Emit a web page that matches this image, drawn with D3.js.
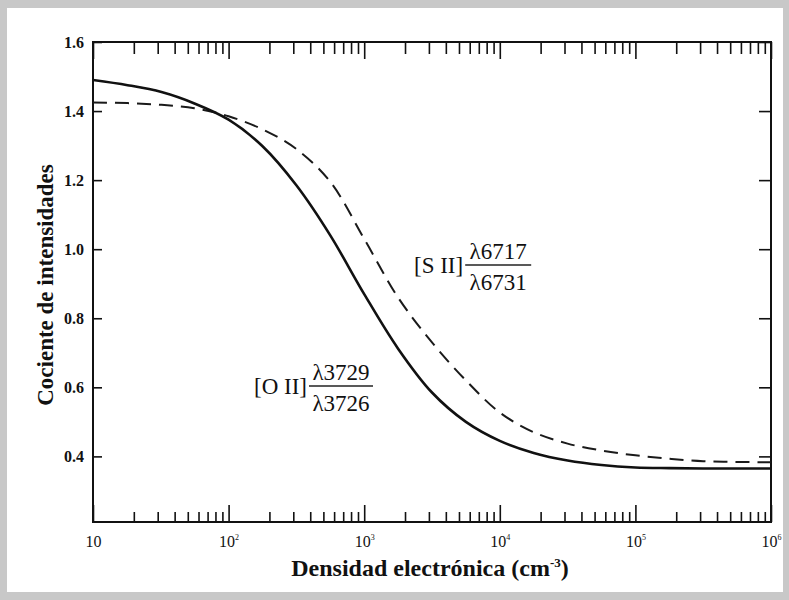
<!DOCTYPE html>
<html>
<head>
<meta charset="utf-8">
<script src="https://cdn.jsdelivr.net/npm/d3@7"></script>
<style>
  html, body { margin: 0; padding: 0; background: #c8c8c8; }
  svg { display: block; }
  text { font-family: "Liberation Serif", "DejaVu Serif", serif; fill: #111; }
</style>
</head>
<body>
<svg id="chart" width="789" height="600"></svg>
<script>
// ---- data ----
const densities = [10, 18, 32, 56, 100, 178, 316, 562, 1000, 1778, 3162, 5623,
                   10000, 17783, 31623, 56234, 100000, 177828, 316228, 562341, 1000000];
const oiiRatio  = [1.490, 1.475, 1.455, 1.422, 1.375, 1.298, 1.185, 1.040, 0.870, 0.712, 0.585, 0.500,
                   0.445, 0.410, 0.388, 0.375, 0.368, 0.366, 0.365, 0.365, 0.365];
const siiRatio  = [1.425, 1.423, 1.418, 1.408, 1.385, 1.347, 1.290, 1.195, 1.030, 0.860, 0.730, 0.620,
                   0.527, 0.470, 0.437, 0.417, 0.403, 0.393, 0.386, 0.384, 0.383];
const xMajorTicks = [10, 100, 1000, 10000, 100000, 1000000];
const xMajorLabels = [["10", ""], ["10", "2"], ["10", "3"], ["10", "4"], ["10", "5"], ["10", "6"]];
const yTicks = [0.4, 0.6, 0.8, 1.0, 1.2, 1.4, 1.6];
const yTickLabels = ["0.4", "0.6", "0.8", "1.0", "1.2", "1.4", "1.6"];
const xTitle = "Densidad electrónica (cm";
const yTitle = "Cociente de intensidades";

// ---- layout ----
const W = 789, H = 600;
const L = 93, R = 771, T = 42, B = 522;
const svg = d3.select("#chart");

svg.append("rect").attr("x", 0).attr("y", 0).attr("width", W).attr("height", H).attr("fill", "#c8c8c8");
svg.append("rect").attr("x", 7).attr("y", 8).attr("width", W - 13).attr("height", H - 16).attr("fill", "#ffffff");

const x = d3.scaleLog().domain([10, 1e6]).range([L, R]);
const y = d3.scaleLinear().domain([0.21, 1.6]).range([B, T]);

// minor ticks 2..9 per decade
const minors = [];
for (let e = 1; e < 6; e++) for (let m = 2; m <= 9; m++) minors.push(m * Math.pow(10, e));

function clean(g) { g.select(".domain").remove(); g.selectAll("line").attr("stroke", "#111").attr("stroke-width", 1.6); }

// top
svg.append("g").attr("transform", `translate(0,${T})`)
  .call(d3.axisTop(x).tickValues(minors).tickSize(-12).tickFormat(""))
  .call(clean);
svg.append("g").attr("transform", `translate(0,${T})`)
  .call(d3.axisTop(x).tickValues(xMajorTicks).tickSize(-17).tickFormat(""))
  .call(clean);
// bottom
svg.append("g").attr("transform", `translate(0,${B})`)
  .call(d3.axisBottom(x).tickValues(minors).tickSize(-10).tickFormat(""))
  .call(clean);
const bx = svg.append("g").attr("transform", `translate(0,${B})`)
  .call(d3.axisBottom(x).tickValues(xMajorTicks).tickSize(-17).tickFormat(""))
  .call(clean);
bx.selectAll(".tick").each(function(d, i) {
  const t = d3.select(this).append("text")
    .attr("y", 25).attr("text-anchor", "middle")
    .style("font-size", "16px");
  t.append("tspan").text(xMajorLabels[i][0]);
  if (xMajorLabels[i][1]) t.append("tspan").attr("dy", -7).style("font-size", "8px").text(xMajorLabels[i][1]);
});

// left
const ly = svg.append("g").attr("transform", `translate(${L},0)`)
  .call(d3.axisLeft(y).tickValues(yTicks).tickSize(-9).tickPadding(8)
        .tickFormat((d, i) => yTickLabels[i]))
  .call(clean);
ly.selectAll("text").attr("x", -9).style("font-size", "16px").style("font-family", "'Liberation Serif', serif")
  .style("font-weight", "bold").attr("fill", "#222");
// right
svg.append("g").attr("transform", `translate(${R},0)`)
  .call(d3.axisRight(y).tickValues(yTicks).tickSize(-12).tickFormat(""))
  .call(clean);

// frame
svg.append("rect").attr("x", L).attr("y", T).attr("width", R - L).attr("height", B - T)
  .attr("fill", "none").attr("stroke", "#111").attr("stroke-width", 2);

// curves
svg.append("clipPath").attr("id", "clip").append("rect")
  .attr("x", L).attr("y", T).attr("width", R - L).attr("height", B - T);
const line = d3.line().curve(d3.curveCatmullRom.alpha(0.5)).x(d => x(d[0])).y(d => y(d[1]));
svg.append("path").attr("clip-path", "url(#clip)")
  .attr("d", line(densities.map((d, i) => [d, siiRatio[i]])))
  .attr("fill", "none").attr("stroke", "#1a1a1a").attr("stroke-width", 2)
  .attr("stroke-dasharray", "14,8");
svg.append("path").attr("clip-path", "url(#clip)")
  .attr("d", line(densities.map((d, i) => [d, oiiRatio[i]])))
  .attr("fill", "none").attr("stroke", "#111").attr("stroke-width", 2.6);

// curve labels
function fracLabel(xLeft, yLine, prefix, num, den, lineLen) {
  const g = svg.append("g").attr("transform", `translate(${xLeft},${yLine})`);
  g.append("text").attr("x", 0).attr("y", 8).style("font-size", "23px").text(prefix);
  const pw = g.select("text").node().getComputedTextLength();
  const fx = pw + 2;
  g.append("line").attr("x1", fx).attr("x2", fx + lineLen).attr("y1", 0).attr("y2", 0)
    .attr("stroke", "#222").attr("stroke-width", 1.3);
  g.append("text").attr("x", fx + lineLen / 2).attr("y", -6).attr("text-anchor", "middle")
    .style("font-size", "23px").text(num);
  g.append("text").attr("x", fx + lineLen / 2).attr("y", 25).attr("text-anchor", "middle")
    .style("font-size", "23px").text(den);
}
fracLabel(254, 386, "[O II]", "λ3729", "λ3726", 64);
fracLabel(414, 265, "[S II]", "λ6717", "λ6731", 66);

// axis titles
const xt = svg.append("text").attr("x", (L + R) / 2 - 2).attr("y", 576).attr("text-anchor", "middle")
  .style("font-size", "24px").style("font-weight", "bold");
xt.append("tspan").text(xTitle);
xt.append("tspan").attr("dy", -9).style("font-size", "13px").text("-3");
xt.append("tspan").attr("dy", 9).text(")");

svg.append("text").attr("transform", `translate(53,${(T + B) / 2 + 3}) rotate(-90)`)
  .attr("text-anchor", "middle").style("font-size", "23px").style("font-weight", "bold")
  .text(yTitle);
</script>
</body>
</html>
